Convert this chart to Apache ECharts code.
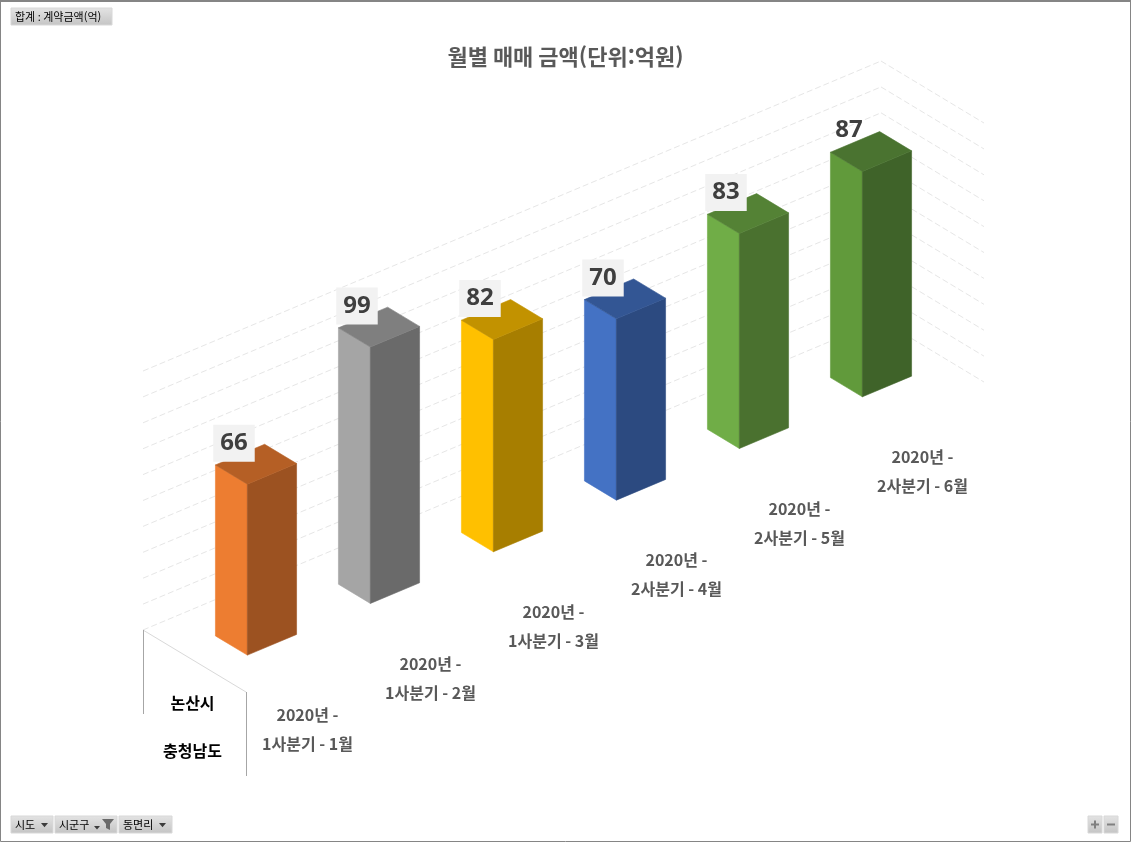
<!DOCTYPE html>
<html lang="ko">
<head>
<meta charset="utf-8">
<title>월별 매매 금액</title>
<script src="https://cdn.jsdelivr.net/npm/echarts@6/dist/echarts.min.js"></script>
<style>
  html, body { margin: 0; padding: 0; background: #fff; }
  #chart { width: 1131px; height: 842px; }
</style>
</head>
<body>
<div id="chart"></div>
<script>
// 차트 데이터
const categories = [
  '2020년 -\n1사분기 - 1월',
  '2020년 -\n1사분기 - 2월',
  '2020년 -\n1사분기 - 3월',
  '2020년 -\n2사분기 - 4월',
  '2020년 -\n2사분기 - 5월',
  '2020년 -\n2사분기 - 6월'
]
const amounts = [66, 99, 82, 70, 83, 87]
const valueTicks = [0, 10, 20, 30, 40, 50, 60, 70, 80, 90, 100]
const rowLabels = ['논산시', '충청남도']

// 막대 색상: [앞면, 옆면, 윗면]
const barColors = [
  ['#ED7D31', '#9C5221', '#B55F25'],
  ['#A5A5A5', '#6A6A6A', '#7F7F7F'],
  ['#FFC000', '#A77E00', '#C29200'],
  ['#4472C4', '#2C4A80', '#335694'],
  ['#70AD47', '#4A712F', '#548235'],
  ['#619A3B', '#3F6329', '#4A7330']
]

const FONT_KR = "'Noto Sans CJK KR', 'Noto Sans', sans-serif"

// 3D 느낌을 위한 투영 값 (카테고리 방향 기울기, 깊이 벡터)
const SLOPE = 0.42
const DEPTH = [103, 62]

function makeProjector(api) {
  const bw = api.size([1, 0])[0]
  const x0 = api.coord([0, 0])[0] - bw / 2
  const proj = (x, y, d) => [x + DEPTH[0] * d, y - SLOPE * (x - x0) + DEPTH[1] * d]
  return { bw, x0, proj }
}

// 벽면 눈금선
function renderWalls(params, api) {
  const { bw, x0, proj } = makeProjector(api)
  const y = api.coord([0, api.value(1)])[1]
  const xEnd = x0 + bw * categories.length
  const lineStyle = { stroke: '#e6e6e6', lineWidth: 1, lineDash: [6, 3], fill: null }
  const children = [
    { type: 'polyline', shape: { points: [proj(x0, y, 0), proj(xEnd, y, 0)] }, style: lineStyle },
    { type: 'polyline', shape: { points: [proj(xEnd, y, 0), proj(xEnd, y, 1)] }, style: lineStyle }
  ]

  // 바닥 모서리 + 행 레이블 영역
  if (params.dataIndex === 0) {
    const y0 = api.coord([0, 0])[1]
    const a = proj(x0, y0, 0)
    const b = proj(x0, y0, 1)
    children.push(
      { type: 'line', shape: { x1: a[0], y1: a[1], x2: b[0], y2: b[1] }, style: { stroke: '#d9d9d9', lineWidth: 1 } },
      { type: 'line', shape: { x1: a[0] + 0.5, y1: a[1], x2: a[0] + 0.5, y2: a[1] + 84 }, style: { stroke: '#a6a6a6', lineWidth: 1 } },
      { type: 'line', shape: { x1: b[0] + 0.5, y1: b[1], x2: b[0] + 0.5, y2: b[1] + 84 }, style: { stroke: '#a6a6a6', lineWidth: 1 } }
    )
    rowLabels.forEach((t, k) => {
      children.push({
        type: 'text',
        x: (a[0] + b[0]) / 2 - 2,
        y: b[1] + 11 + k * 48,
        style: {
          text: t, fill: '#000', align: 'center', verticalAlign: 'middle',
          fontSize: 16, fontWeight: 'bold', fontFamily: FONT_KR
        }
      })
    })
  }
  return { type: 'group', children }
}

// 3D 막대
function renderBar(params, api) {
  const { bw, proj } = makeProjector(api)
  const i = api.value(0)
  const base = api.coord([i, 0])
  const top = api.coord([i, api.value(1)])
  const cl = base[0] - 0.2 * bw
  const ch = base[0] + 0.2 * bw
  const dl = 0.345
  const dh = 0.655
  const yb = base[1]
  const yt = top[1]
  const col = barColors[i % barColors.length]
  const face = (pts, c) => ({
    type: 'polygon',
    shape: { points: pts },
    style: { fill: c, stroke: c, lineWidth: 0.6 }
  })
  const lbl = proj(base[0], yt, 0.5)
  const cat = proj(base[0], yb, 1)
  const last = i === amounts.length - 1

  return {
    type: 'group',
    children: [
      face([proj(cl, yb, dl), proj(cl, yb, dh), proj(cl, yt, dh), proj(cl, yt, dl)], col[0]),
      face([proj(cl, yb, dh), proj(ch, yb, dh), proj(ch, yt, dh), proj(cl, yt, dh)], col[1]),
      face([proj(cl, yt, dl), proj(cl, yt, dh), proj(ch, yt, dh), proj(ch, yt, dl)], col[2]),
      {
        type: 'text',
        x: lbl[0] - 22,
        y: lbl[1] - 21,
        style: {
          text: String(api.value(1)),
          fill: '#3f3f3f',
          align: 'center',
          verticalAlign: 'middle',
          fontSize: 24,
          fontWeight: 'bold',
          fontFamily: "'Noto Sans', sans-serif",
          backgroundColor: last ? 'transparent' : '#f2f2f2',
          padding: [6, 7, 6, 7],
          lineHeight: 25
        }
      },
      {
        type: 'text',
        x: cat[0],
        y: cat[1] + 63.5,
        style: {
          text: categories[i],
          fill: '#595959',
          align: 'center',
          verticalAlign: 'middle',
          fontSize: 16,
          fontWeight: 'bold',
          fontFamily: FONT_KR,
          lineHeight: 29
        }
      }
    ]
  }
}

// 피벗 필드 버튼
const btnFill = {
  type: 'linear', x: 0, y: 0, x2: 0, y2: 1,
  colorStops: [{ offset: 0, color: '#e4e4e4' }, { offset: 1, color: '#c4c4c4' }]
}

function fieldButton(x, y, w, h, label) {
  return [
    { type: 'rect', shape: { x, y, width: w, height: h }, style: { fill: btnFill, stroke: '#d8d8d8', lineWidth: 1 } },
    { type: 'text', x: x + 4, y: y + h / 2, style: { text: label, fill: '#000', fontSize: 11, fontFamily: FONT_KR, verticalAlign: 'middle' } }
  ]
}

function arrow(x, y, s) {
  return { type: 'polygon', shape: { points: [[x, y], [x + s, y], [x + s / 2, y + s * 0.6]] }, style: { fill: '#3c3c3c' } }
}

const graphics = [
  { type: 'rect', shape: { x: 0.5, y: 1, width: 1130, height: 840.5 }, style: { fill: null, stroke: '#858585', lineWidth: 1 } },
  { type: 'line', shape: { x1: 0, y1: 1, x2: 1131, y2: 1 }, style: { stroke: '#858585', lineWidth: 2 } },
  ...fieldButton(11, 8, 101, 17, '합계 : 계약금액(억)'),
  ...fieldButton(11, 816, 42, 17, '시도'),
  arrow(41, 823, 7),
  ...fieldButton(55, 816, 62, 17, '시군구'),
  arrow(94, 826, 6),
  { type: 'polygon', shape: { points: [[102, 819], [114, 819], [110, 824], [110, 830], [106, 828], [106, 824]] }, style: { fill: '#6a6a6a' } },
  ...fieldButton(119, 816, 53, 17, '동면리'),
  arrow(159, 823, 7),
  { type: 'rect', shape: { x: 1088, y: 816, width: 14, height: 17 }, style: { fill: btnFill, stroke: '#d8d8d8' } },
  { type: 'rect', shape: { x: 1104, y: 816, width: 14, height: 17 }, style: { fill: btnFill, stroke: '#d8d8d8' } },
  { type: 'line', shape: { x1: 1091, y1: 824.5, x2: 1099, y2: 824.5 }, style: { stroke: '#808080', lineWidth: 2 } },
  { type: 'line', shape: { x1: 1095, y1: 820.5, x2: 1095, y2: 828.5 }, style: { stroke: '#808080', lineWidth: 2 } },
  { type: 'line', shape: { x1: 1107, y1: 824.5, x2: 1115, y2: 824.5 }, style: { stroke: '#808080', lineWidth: 2 } }
]

const chart = echarts.init(document.getElementById('chart'))

chart.setOption({
  backgroundColor: '#fff',
  animation: false,
  title: {
    text: '월별 매매 금액(단위:억원)',
    left: 'center',
    top: 46,
    padding: 0,
    textStyle: { fontSize: 22, fontWeight: 'bold', color: '#595959', fontFamily: FONT_KR }
  },
  grid: { left: 143, top: 371, width: 738, height: 259, outerBoundsMode: 'none' },
  xAxis: {
    type: 'category',
    data: categories,
    show: false
  },
  yAxis: {
    type: 'value',
    min: 0,
    max: 100,
    interval: 10,
    show: false
  },
  graphic: graphics,
  series: [
    {
      type: 'custom',
      name: 'walls',
      z: 1,
      silent: true,
      renderItem: renderWalls,
      data: valueTicks.map(v => [0, v])
    },
    {
      type: 'custom',
      name: '계약금액',
      z: 3,
      renderItem: renderBar,
      data: amounts.map((v, i) => [i, v])
    }
  ]
})
</script>
</body>
</html>
